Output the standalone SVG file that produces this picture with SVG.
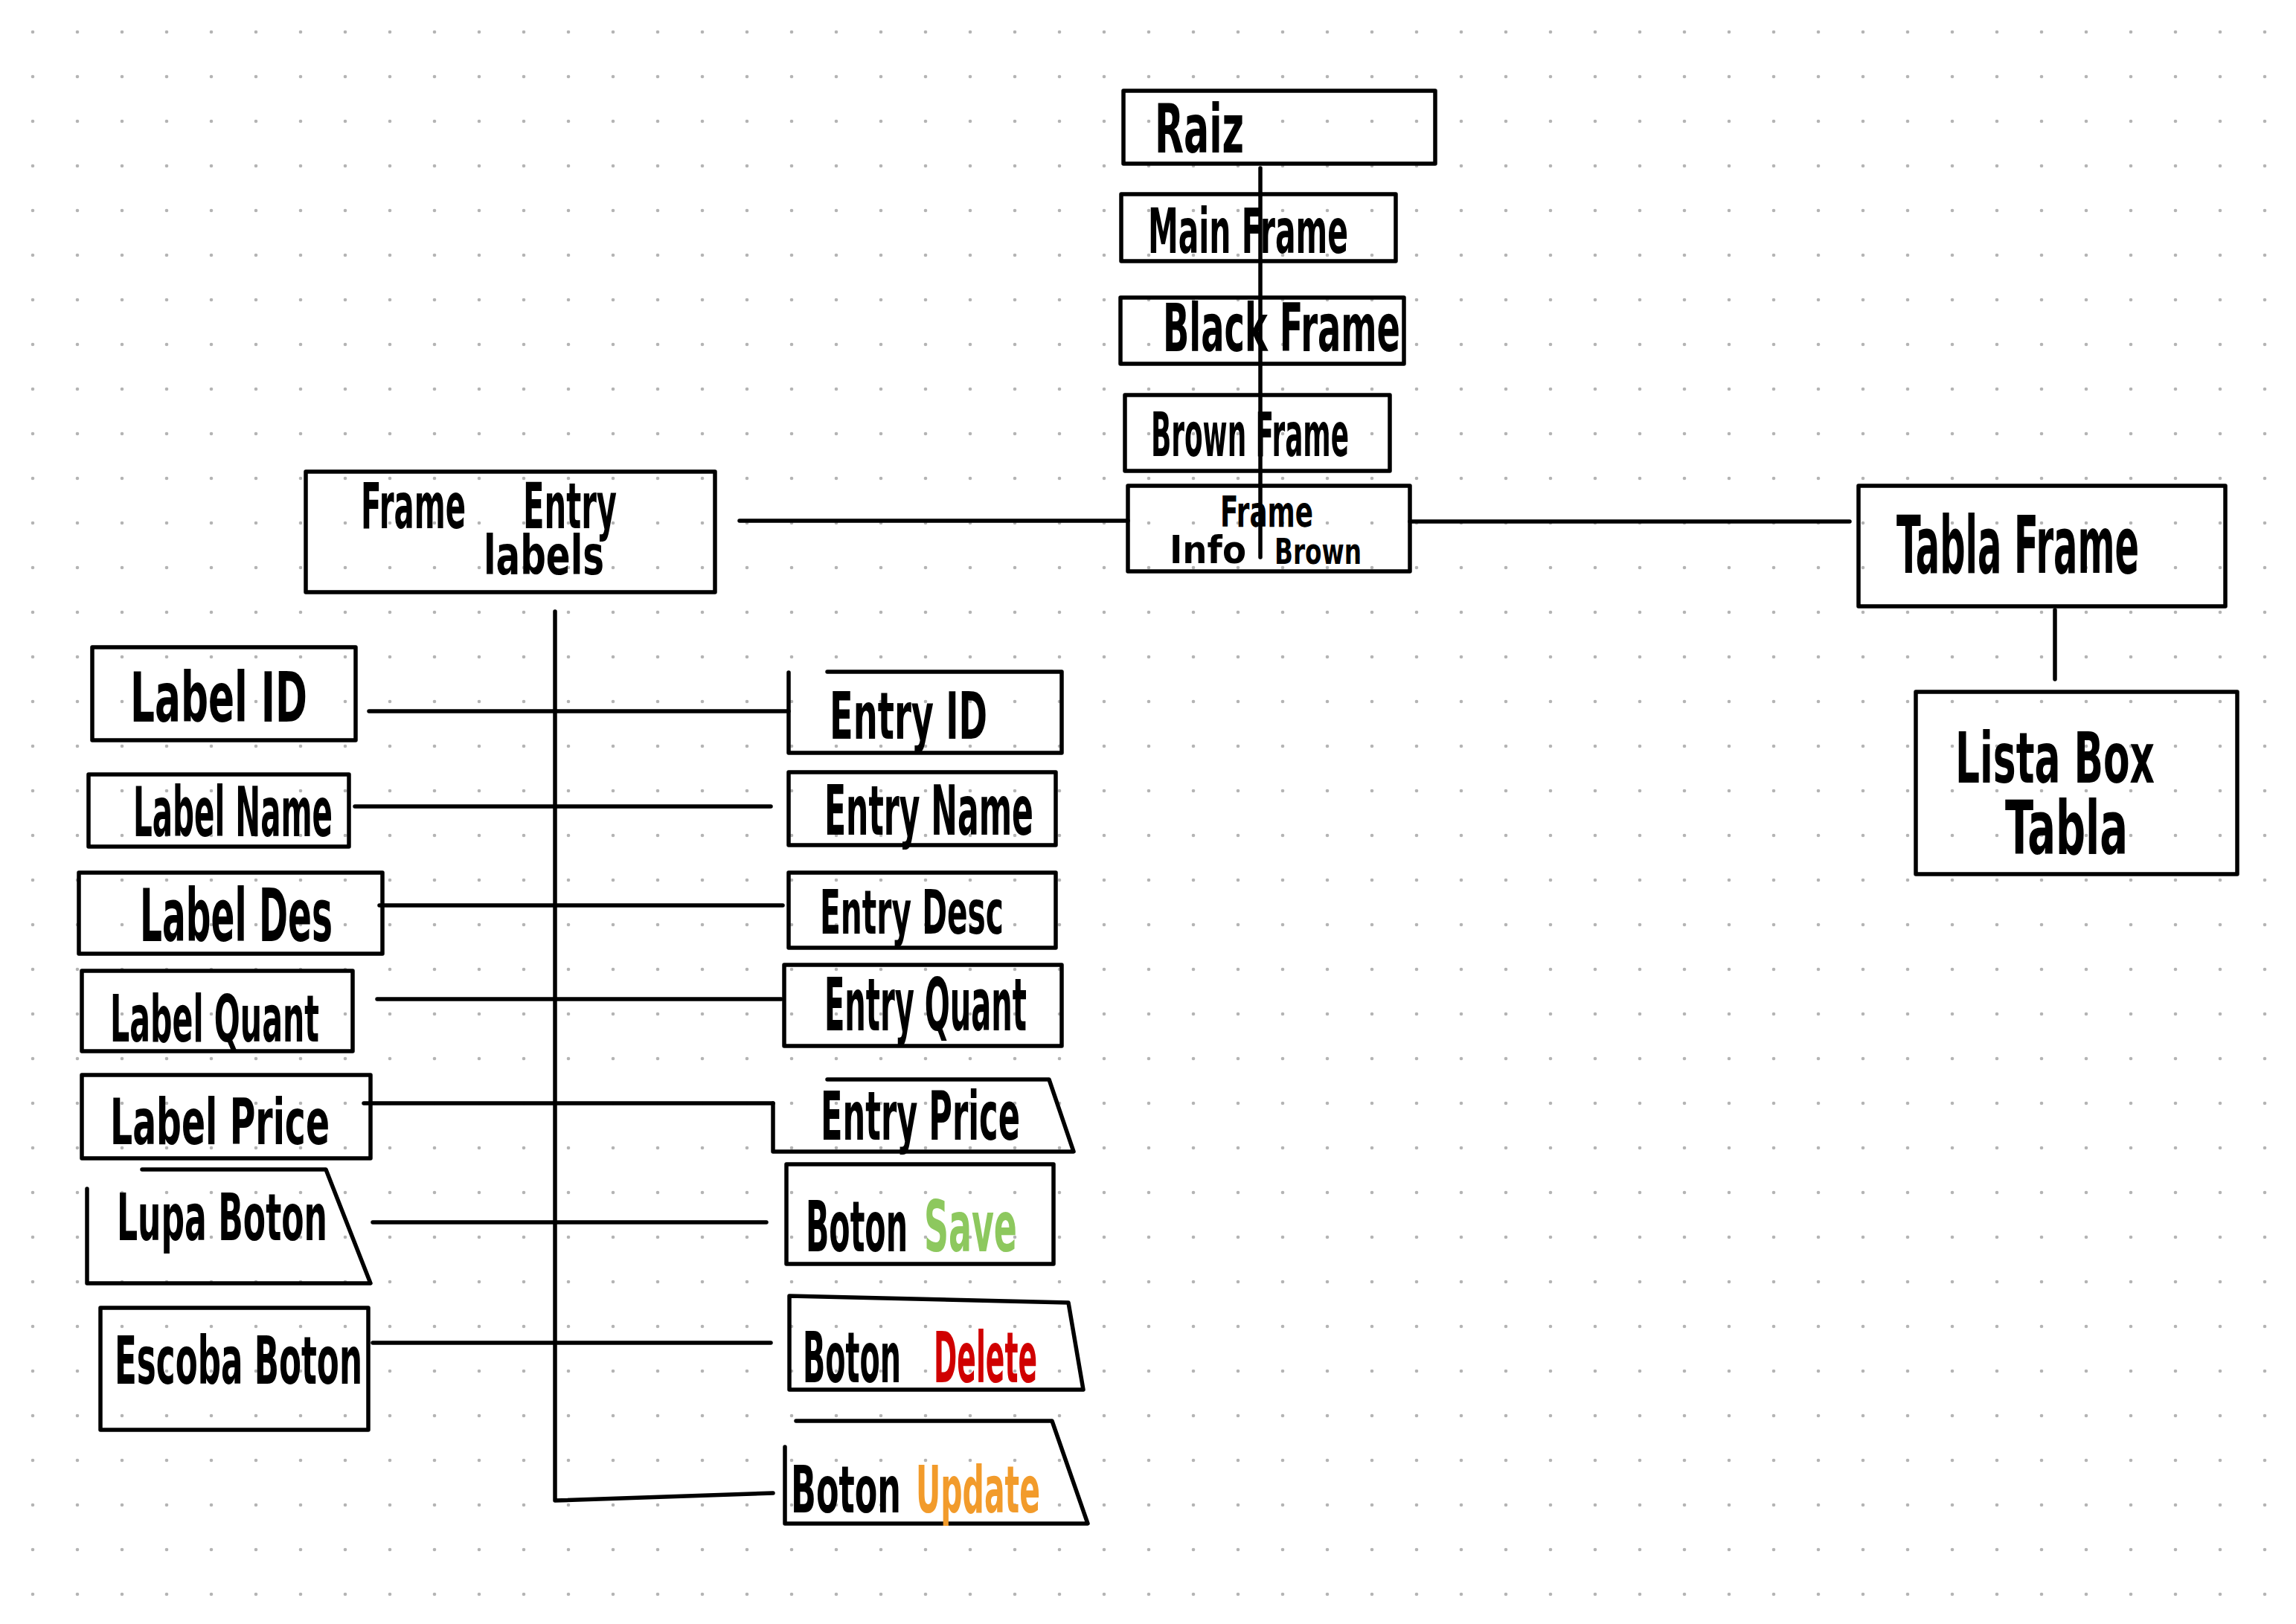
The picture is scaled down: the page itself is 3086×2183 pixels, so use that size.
<svg xmlns="http://www.w3.org/2000/svg" width="3086" height="2183" viewBox="0 0 3086 2183">
<defs>
<pattern id="dots" patternUnits="userSpaceOnUse" x="14" y="13" width="60" height="60">
<circle cx="30" cy="30" r="2.3" fill="#b4b4b4"/>
</pattern>
<style>
.box{fill:none;stroke:#000;stroke-width:5.5;stroke-linejoin:round;stroke-linecap:round}
.con{fill:none;stroke:#000;stroke-width:5.5;stroke-linecap:round;stroke-linejoin:round}
.t{font-family:"DejaVu Sans Condensed","DejaVu Sans","Liberation Sans",sans-serif;font-weight:bold;fill:#000}
.save{fill:#8dc85e}
.del{fill:#d00000}
.upd{fill:#f29b2b}
</style>
</defs>
<rect width="3086" height="2183" fill="#fff"/>
<rect width="3086" height="2183" fill="url(#dots)"/>

<g id="connectors">
<path class="con" d="M1694,226 V749"/>
<path class="con" d="M994,700 H1516"/>
<path class="con" d="M1895,701 H2486"/>
<path class="con" d="M2762,820 V913"/>
<path class="con" d="M746,822 V2017 L1039,2007"/>
<path class="con" d="M496,956 H1060"/>
<path class="con" d="M477,1084 H1036"/>
<path class="con" d="M510,1217 H1052"/>
<path class="con" d="M507,1343 H1050"/>
<path class="con" d="M489,1483 H1039"/>
<path class="con" d="M501,1643 H1030"/>
<path class="con" d="M501,1805 H1036"/>
</g>

<g id="raiz">
<rect class="box" x="1510" y="122" width="419" height="98"/>
<text class="t" x="1552" y="205" font-size="56" textLength="120" lengthAdjust="spacingAndGlyphs" transform="matrix(1 0 0 1.62 0 -127.1)">Raiz</text>
</g>
<g id="main-frame">
<rect class="box" x="1507" y="261" width="369" height="90"/>
<text class="t" x="1543" y="340" font-size="45.3" textLength="269" lengthAdjust="spacingAndGlyphs" transform="matrix(1 0 0 1.85 0 -289)">Main Frame</text>
</g>
<g id="black-frame">
<rect class="box" x="1506" y="400" width="381" height="89"/>
<text class="t" x="1563" y="472" font-size="51.3" textLength="319" lengthAdjust="spacingAndGlyphs" transform="matrix(1 0 0 1.74 0 -349.3)">Black Frame</text>
</g>
<g id="brown-frame">
<rect class="box" x="1512" y="531" width="356" height="102"/>
<text class="t" x="1547" y="613" font-size="39.7" textLength="266" lengthAdjust="spacingAndGlyphs" transform="matrix(1 0 0 2.07 0 -655.9)">Brown Frame</text>
</g>
<g id="frame-info-brown">
<rect class="box" x="1516" y="653" width="379" height="115"/>
<text class="t" x="1640" y="708" font-size="39.5" textLength="125" lengthAdjust="spacingAndGlyphs" transform="matrix(1 0 0 1.42 0 -297.4)">Frame</text>
<text class="t" x="1572" y="757" font-size="52" textLength="103" lengthAdjust="spacingAndGlyphs">Info</text>
<text class="t" x="1713" y="758" font-size="36.3" textLength="117" lengthAdjust="spacingAndGlyphs" transform="matrix(1 0 0 1.32 0 -242.6)">Brown</text>
</g>
<g id="frame-entry-labels">
<rect class="box" x="411" y="634" width="550" height="162"/>
<text class="t" x="485" y="710" font-size="44.5" textLength="141" lengthAdjust="spacingAndGlyphs" transform="matrix(1 0 0 1.91 0 -646.1)">Frame</text>
<text class="t" x="703" y="710" font-size="46.4" textLength="126" lengthAdjust="spacingAndGlyphs" transform="matrix(1 0 0 1.86 0 -610.6)">Entry</text>
<text class="t" x="650" y="772" font-size="53.7" textLength="162" lengthAdjust="spacingAndGlyphs" transform="matrix(1 0 0 1.35 0 -270.2)">labels</text>
</g>
<g id="tabla-frame">
<rect class="box" x="2498" y="653" width="493" height="162"/>
<text class="t" x="2549" y="770" font-size="52.1" textLength="326" lengthAdjust="spacingAndGlyphs" transform="matrix(1 0 0 2.05 0 -808.5)">Tabla Frame</text>
</g>
<g id="lista-box-tabla">
<rect class="box" x="2575" y="930" width="432" height="245"/>
<text class="t" x="2628" y="1052" font-size="57.6" textLength="268" lengthAdjust="spacingAndGlyphs" transform="matrix(1 0 0 1.64 0 -673.3)">Lista Box</text>
<text class="t" x="2695" y="1148" font-size="59.3" textLength="165" lengthAdjust="spacingAndGlyphs" transform="matrix(1 0 0 1.69 0 -792.1)">Tabla</text>
</g>

<g id="label-id">
<rect class="box" x="124" y="870" width="354" height="125"/>
<text class="t" x="175" y="970" font-size="57.5" textLength="238" lengthAdjust="spacingAndGlyphs" transform="matrix(1 0 0 1.6 0 -582)">Label ID</text>
</g>
<g id="label-name">
<rect class="box" x="119" y="1041" width="350" height="97"/>
<text class="t" x="179" y="1124" font-size="44.9" textLength="268" lengthAdjust="spacingAndGlyphs" transform="matrix(1 0 0 2.05 0 -1180.2)">Label Name</text>
</g>
<g id="label-des">
<rect class="box" x="106" y="1173" width="408" height="109"/>
<text class="t" x="188" y="1265" font-size="52.3" textLength="259" lengthAdjust="spacingAndGlyphs" transform="matrix(1 0 0 1.86 0 -1087.9)">Label Des</text>
</g>
<g id="label-quant">
<rect class="box" x="110" y="1305" width="364" height="108"/>
<text class="t" x="148" y="1400" font-size="45.8" textLength="281" lengthAdjust="spacingAndGlyphs" transform="matrix(1 0 0 1.89 0 -1246)">Label Quant</text>
</g>
<g id="label-price">
<rect class="box" x="110" y="1445" width="388" height="112"/>
<text class="t" x="148" y="1538" font-size="52.6" textLength="295" lengthAdjust="spacingAndGlyphs" transform="matrix(1 0 0 1.64 0 -984.3)">Label Price</text>
</g>
<g id="lupa-boton">
<path class="box" d="M191,1572 H438 L498,1725 H117 V1598"/>
<text class="t" x="157" y="1667" font-size="49" textLength="283" lengthAdjust="spacingAndGlyphs" transform="matrix(1 0 0 1.79 0 -1316.9)">Lupa Boton</text>
</g>
<g id="escoba-boton">
<rect class="box" x="135" y="1758" width="360" height="164"/>
<text class="t" x="154" y="1860" font-size="48.5" textLength="333" lengthAdjust="spacingAndGlyphs" transform="matrix(1 0 0 1.84 0 -1562.4)">Escoba Boton</text>
</g>

<g id="entry-id">
<path class="box" d="M1112,903 H1427 V1012 H1060 V904"/>
<text class="t" x="1115" y="993" font-size="51.6" textLength="212" lengthAdjust="spacingAndGlyphs" transform="matrix(1 0 0 1.68 0 -675.2)">Entry ID</text>
</g>
<g id="entry-name">
<rect class="box" x="1060" y="1038" width="359" height="98"/>
<text class="t" x="1108" y="1122" font-size="47.3" textLength="281" lengthAdjust="spacingAndGlyphs" transform="matrix(1 0 0 1.94 0 -1054.7)">Entry Name</text>
</g>
<g id="entry-desc">
<rect class="box" x="1060" y="1173" width="359" height="101"/>
<text class="t" x="1102" y="1255" font-size="45.3" textLength="247" lengthAdjust="spacingAndGlyphs" transform="matrix(1 0 0 1.79 0 -991.5)">Entry Desc</text>
</g>
<g id="entry-quant">
<rect class="box" x="1054" y="1297" width="373" height="109"/>
<text class="t" x="1108" y="1385" font-size="44.5" textLength="272" lengthAdjust="spacingAndGlyphs" transform="matrix(1 0 0 2.19 0 -1648.2)">Entry Quant</text>
</g>
<g id="entry-price">
<path class="box" d="M1112,1451 H1410 L1443,1548 H1039 V1483"/>
<text class="t" x="1103" y="1532" font-size="48" textLength="268" lengthAdjust="spacingAndGlyphs" transform="matrix(1 0 0 1.89 0 -1363.5)">Entry Price</text>
</g>
<g id="boton-save">
<rect class="box" x="1057" y="1565" width="359" height="134"/>
<text class="t" x="1083" y="1682" font-size="45.8" textLength="137" lengthAdjust="spacingAndGlyphs" transform="matrix(1 0 0 2.07 0 -1799.7)">Boton</text>
<text class="t save" x="1242" y="1682" font-size="51" textLength="125" lengthAdjust="spacingAndGlyphs" transform="matrix(1 0 0 1.85 0 -1429.7)">Save</text>
</g>
<g id="boton-delete">
<path class="box" d="M1061,1742 L1436,1751 L1456,1868 H1061 Z"/>
<text class="t" x="1079" y="1858" font-size="44.1" textLength="132" lengthAdjust="spacingAndGlyphs" transform="matrix(1 0 0 2.15 0 -2136.7)">Boton</text>
<text class="t del" x="1255" y="1858" font-size="41.9" textLength="139" lengthAdjust="spacingAndGlyphs" transform="matrix(1 0 0 2.26 0 -2341.1)">Delete</text>
</g>
<g id="boton-update">
<path class="box" d="M1070,1910 H1414 L1462,2048 H1055 V1945"/>
<text class="t" x="1063" y="2033" font-size="49.4" textLength="148" lengthAdjust="spacingAndGlyphs" transform="matrix(1 0 0 1.78 0 -1585.7)">Boton</text>
<text class="t upd" x="1231" y="2033" font-size="45.5" textLength="167" lengthAdjust="spacingAndGlyphs" transform="matrix(1 0 0 1.93 0 -1890.7)">Update</text>
</g>
</svg>
